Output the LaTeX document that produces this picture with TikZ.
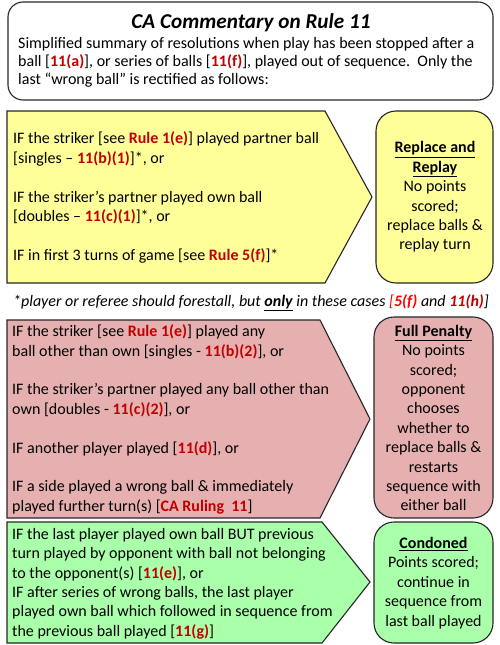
\documentclass[tikz,border=0pt]{standalone}
\usepackage{fontspec}
\setmainfont{Carlito}
\usepackage{tikz}

\definecolor{rulered}{RGB}{192,0,0}
\definecolor{brightred}{RGB}{255,0,0}
\definecolor{fillyellow}{RGB}{255,255,153}
\definecolor{fillred}{RGB}{230,176,176}
\definecolor{fillgreen}{RGB}{170,255,170}

\newcommand{\rref}[1]{\textcolor{rulered}{\textbf{#1}}}
\newcommand{\uhead}[1]{\textbf{\underline{#1}}}

\begin{document}
\begin{tikzpicture}[x=1pt,y=1pt,yscale=-1,
    box/.style={draw=black!85, line width=1.1pt},
    txt/.style={inner sep=0pt, align=left, font=\fontsize{16}{19.4}\selectfont},
    outcome/.style={inner sep=0pt, align=center, font=\fontsize{16}{19.4}\selectfont}]
    \useasboundingbox (0,0) rectangle (500,645);

    %Shape: Rounded Rectangle [header]
    \draw [box, rounded corners=15] (8,2) -- (493,2) -- (493,100) -- (8,100) -- cycle ;

    %Shape: Pentagon [replay cases]
    \draw [box, fill=fillyellow] (7,111) -- (325,111) -- (372,197) -- (325,283) -- (7,283) -- cycle ;

    %Shape: Rounded Rectangle [replay]
    \draw [box, fill=fillyellow, rounded corners=20] (376,111) -- (493,111) -- (493,283) -- (376,283) -- cycle ;

    %Shape: Pentagon [penalty cases]
    \draw [box, fill=fillred] (7,320) -- (320,320) -- (370,419) -- (320,518) -- (7,518) -- cycle ;

    %Shape: Rounded Rectangle [penalty]
    \draw [box, fill=fillred, rounded corners=20] (374,317) -- (493,317) -- (493,518) -- (374,518) -- cycle ;

    %Shape: Pentagon [condoned cases]
    \draw [box, fill=fillgreen] (7,522) -- (322,522) -- (370,582) -- (322,643) -- (7,643) -- cycle ;

    %Shape: Rounded Rectangle [condoned]
    \draw [box, fill=fillgreen, rounded corners=20] (374,522) -- (493,522) -- (493,643) -- (374,643) -- cycle ;


    % Text Node
    \draw (251,23) node [inner sep=0pt, font=\fontsize{21.2}{24}\selectfont\bfseries\itshape] (title) {CA Commentary on Rule 11};
    % Text Node
    \draw (18,62) node [txt, anchor=west, font=\fontsize{16}{18}\selectfont] (summary) {Simplified summary of resolutions when play has been stopped after a\\ball [\rref{11(a)}], or series of balls [\rref{11(f)}], played out of sequence.\ \ Only the\\last “wrong ball” is rectified as follows:};
    % Text Node
    \draw (13,197.5) node [txt, anchor=west] (replaycases) {IF the striker [see \rref{Rule 1(e)}] played partner ball\\{[}singles – \rref{11(b)(1)}]*, or\\[19.4pt]IF the striker’s partner played own ball\\{[}doubles – \rref{11(c)(1)}]*, or\\[19.4pt]IF in first 3 turns of game [see \rref{Rule 5(f)}]*};
    % Text Node
    \draw (435,197) node [outcome] (replay) {\uhead{Replace and}\\\uhead{Replay}\\No points\\scored;\\replace balls \&\\replay turn};
    % Text Node
    \draw (251,303) node [inner sep=0pt, font=\fontsize{16}{16}\selectfont\itshape] (note) {*player or referee should forestall, but \uhead{only} in these cases \textcolor{brightred}{[\textbf{5(f)}} and \rref{11(h)}]};
    % Text Node
    \draw (12,419.5) node [txt, anchor=west] (penaltycases) {IF the striker [see \rref{Rule 1(e)}] played any\\ball other than own [singles - \rref{11(b)(2)}], or\\[19.4pt]IF the striker’s partner played any ball other than\\own [doubles - \rref{11(c)(2)}], or\\[19.4pt]IF another player played [\rref{11(d)}], or\\[19.4pt]IF a side played a wrong ball \& immediately\\played further turn(s) [\rref{CA Ruling\ \ 11}]};
    % Text Node
    \draw (433.5,418) node [outcome] (penalty) {\uhead{Full Penalty}\\No points\\scored;\\opponent\\chooses\\whether to\\replace balls \&\\restarts\\sequence with\\either ball};
    % Text Node
    \draw (12,583.5) node [txt, anchor=west] (condonedcases) {IF the last player played own ball BUT previous\\turn played by opponent with ball not belonging\\to the opponent(s) [\rref{11(e)}], or\\IF after series of wrong balls, the last player\\played own ball which followed in sequence from\\the previous ball played [\rref{11(g)}]};
    % Text Node
    \draw (433.5,583) node [outcome] (condoned) {\uhead{Condoned}\\Points scored;\\continue in\\sequence from\\last ball played};

\end{tikzpicture}
\end{document}
